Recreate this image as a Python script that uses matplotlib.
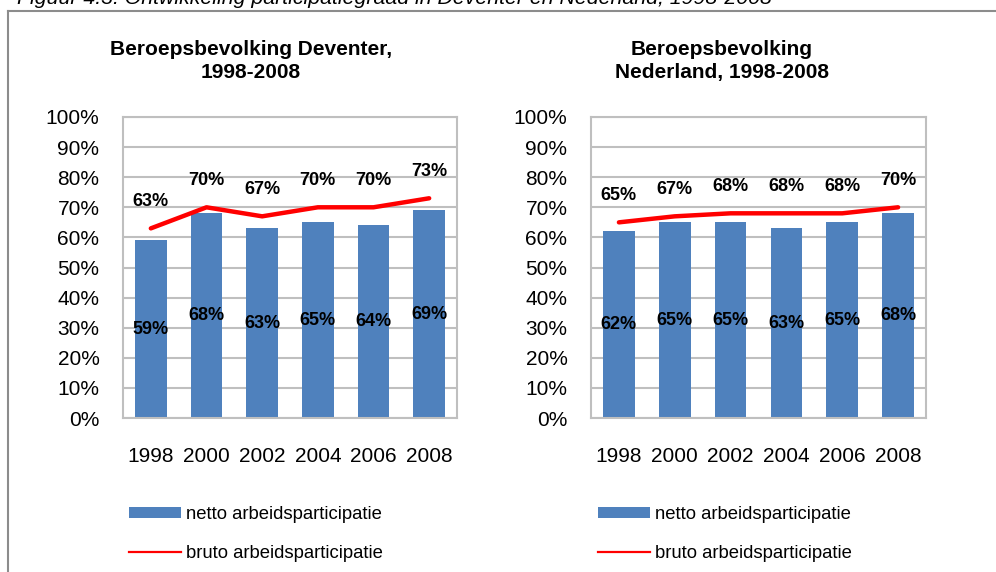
import matplotlib
matplotlib.use("Agg")
import matplotlib.pyplot as plt
from matplotlib.lines import Line2D
from matplotlib.patches import Patch
import numpy as np

plt.rcParams['font.family'] = ['Liberation Sans', 'DejaVu Sans']

years = ["1998", "2000", "2002", "2004", "2006", "2008"]
deventer_netto = [59, 68, 63, 65, 64, 69]
deventer_bruto = [63, 70, 67, 70, 70, 73]
nederland_netto = [62, 65, 65, 63, 65, 68]
nederland_bruto = [65, 67, 68, 68, 68, 70]
yticks = [0, 10, 20, 30, 40, 50, 60, 70, 80, 90, 100]
titles = ["Beroepsbevolking Deventer,\n1998-2008", "Beroepsbevolking\nNederland, 1998-2008"]
caption = "Figuur 4.3: Ontwikkeling participatiegraad in Deventer en Nederland, 1998-2008"
legend_labels = ["netto arbeidsparticipatie", "bruto arbeidsparticipatie"]

W, H = 996, 572
fig = plt.figure(figsize=(W / 100, H / 100), dpi=100)

BLUE = "#4F81BD"
RED = "#FF0000"
GRID = "#BFBFBF"

def fx(px):
    return px / W

def fy(py):
    return 1 - py / H

panels = [
    (123, 457, deventer_netto, deventer_bruto, titles[0], 251, 129),
    (591, 926, nederland_netto, nederland_bruto, titles[1], 722, 598),
]

for (x0, x1, netto, bruto, title, tcx, legx) in panels:
    ax = fig.add_axes([fx(x0), fy(418), fx(x1 - x0), (418 - 117) / H])
    x = np.arange(len(years))
    ax.bar(x, netto, width=0.57, color=BLUE, zorder=2)
    ax.plot(x, bruto, color=RED, lw=3.2, solid_capstyle='round', zorder=3)
    for xi, v in zip(x, netto):
        ax.text(xi, v / 2, f"{v}%", ha='center', va='center', fontsize=13,
                fontweight='bold', zorder=4)
    for xi, v in zip(x, bruto):
        ax.annotate(f"{v}%", (xi, v), xytext=(0, 19), textcoords='offset points',
                    ha='center', va='center', fontsize=13, fontweight='bold', zorder=4)
    ax.set_xlim(-0.5, len(years) - 0.5)
    ax.set_ylim(0, 100)
    ax.set_yticks(yticks)
    ax.set_yticklabels([f"{t}%" for t in yticks])
    ax.set_xticks(x)
    ax.set_xticklabels(years)
    ax.tick_params(axis='y', length=0, pad=17, labelsize=15)
    ax.tick_params(axis='x', length=0, pad=21, labelsize=15)
    ax.grid(axis='y', color=GRID, lw=1.5, zorder=0)
    ax.set_axisbelow(True)
    for s in ax.spines.values():
        s.set_color(GRID)
        s.set_linewidth(1.5)

    fig.text(fx(tcx), fy(61), title, ha='center', va='center', fontsize=15,
             fontweight='bold', linespacing=1.25)

    handles = [Patch(facecolor=BLUE, edgecolor='none'),
               Line2D([0], [0], color=RED, lw=1.6)]
    fig.legend(handles, legend_labels, loc='upper left',
               bbox_to_anchor=(fx(legx), fy(506)), frameon=False,
               fontsize=13.3, handlelength=2.8, handleheight=0.55,
               handletextpad=0.3, labelspacing=1.2, borderpad=0,
               borderaxespad=0)

# outer frame
fig.add_artist(Line2D([fx(8), fx(8)], [fy(11), 0], color="#8C8C8C", lw=1.5))
fig.add_artist(Line2D([fx(8), 1], [fy(11), fy(11)], color="#8C8C8C", lw=1.5))

fig.text(fx(17), fy(4.5), caption, ha='left', va='baseline', fontsize=15.3,
         style='italic')

fig.savefig("out.png", dpi=100)
